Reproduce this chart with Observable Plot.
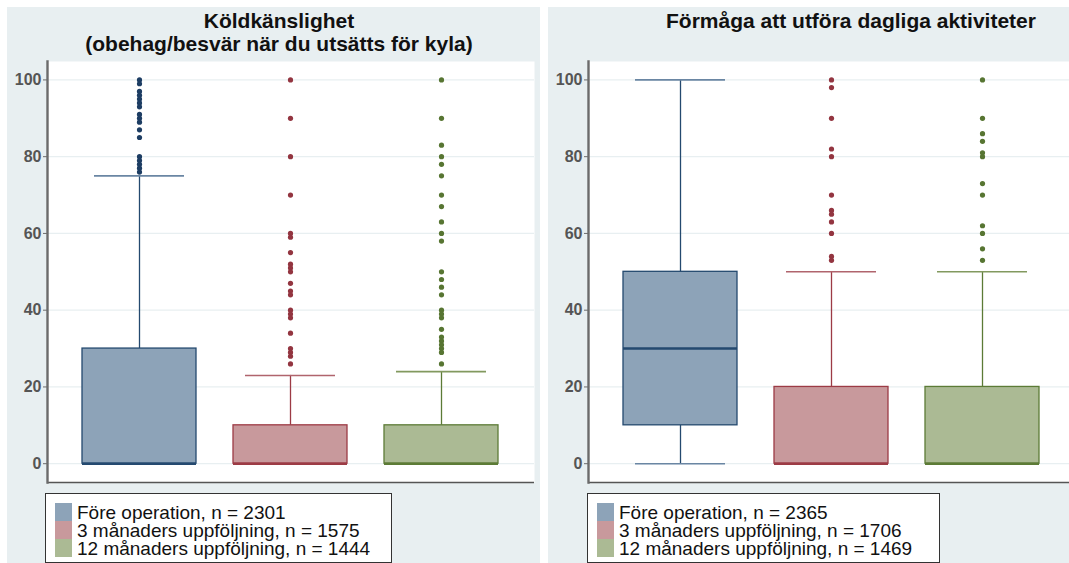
<!DOCTYPE html>
<html>
<head>
<meta charset="utf-8">
<script src="https://cdn.jsdelivr.net/npm/d3@7"></script>
<script src="https://cdn.jsdelivr.net/npm/@observablehq/plot@0.6"></script>
<style>
  html, body { margin: 0; padding: 0; background: #ffffff; overflow: hidden; width: 1069px; height: 563px; }
  body { position: relative; font-family: "Liberation Sans", Arial, sans-serif; }
  .panel { position: absolute; top: 7px; height: 556px; background: #e8eff1; }
  .title { position: absolute; top: 9px; width: 500px; text-align: center; font-weight: bold; font-size: 21px; line-height: 23px; color: #111; }
  .chart { position: absolute; top: 55px; width: 533px; height: 430px; }
  .chart svg { max-width: none !important; display: block; }
  .legend { position: absolute; top: 493px; height: 70px; background: #fff; border: 1px solid #333; box-sizing: border-box; }
  .row { position: absolute; left: 0; height: 18px; }
  .sw { position: absolute; left: 9px; top: 0; width: 17px; height: 18px; }
  .lt { position: absolute; left: 31px; top: 1px; font-size: 19px; line-height: 17px; height: 17px; white-space: nowrap; color: #111; }
</style>
</head>
<body>
<div class="panel" style="left:7px;width:533px"></div>
<div class="panel" style="left:548px;width:540px"></div>
<div class="title" style="left:29px">Köldkänslighet<br>(obehag/besvär när du utsätts för kyla)</div>
<div class="title" style="left:601px">Förmåga att utföra dagliga aktiviteter</div>
<div id="c1" class="chart" style="left:7px"></div>
<div id="c2" class="chart" style="left:548px"></div>
<div id="l1" class="legend" style="left:45px;width:347px"></div>
<div id="l2" class="legend" style="left:587px;width:353px"></div>
<script>
// ---------- data ----------
const groups = ["Före operation", "3 månaders uppföljning", "12 månaders uppföljning"];
const yTicks = [0, 20, 40, 60, 80, 100];

// Köldkänslighet
const coldN = [2301, 1575, 1444];
const coldLow = [0, 0, 0];
const coldQ1 = [0, 0, 0];
const coldMedian = [0, 0, 0];
const coldQ3 = [30, 10, 10];
const coldHigh = [75, 23, 24];
const coldOutPre = [100, 99, 97, 96, 95, 94, 93, 91, 90, 89, 87, 85, 80, 79, 78, 77, 76];
const coldOut3m = [100, 90, 80, 70, 60, 59, 55, 52, 51, 50, 47, 45, 44, 40, 39, 38, 34, 30, 29, 28, 26];
const coldOut12m = [100, 90, 83, 80, 78, 75, 70, 67, 63, 60, 58, 50, 48, 46, 44, 40, 39, 38, 35, 33, 32, 31, 30, 29, 26];

// Förmåga att utföra dagliga aktiviteter
const adlN = [2365, 1706, 1469];
const adlLow = [0, 0, 0];
const adlQ1 = [10, 0, 0];
const adlMedian = [30, 0, 0];
const adlQ3 = [50, 20, 20];
const adlHigh = [100, 50, 50];
const adlOutPre = [];
const adlOut3m = [100, 98, 90, 82, 80, 70, 66, 65, 63, 60, 54, 53];
const adlOut12m = [100, 90, 86, 84, 81, 80, 73, 70, 62, 60, 56, 53];

const fills = ["#8da3b8", "#c8999c", "#abba94"];
const strokes = ["#24496f", "#9c3b45", "#5c7b36"];
const capColors = ["#6a86a3", "#b0646d", "#82995f"];
const dotColors = ["#1d3d63", "#933540", "#577532"];

function draw(el, low, q1, med, q3, high, outs) {
  const stats = groups.map((g, i) => ({g, low: low[i], q1: q1[i], med: med[i], q3: q3[i], high: high[i]}));
  const pts = groups.flatMap((g, i) => outs[i].map(v => ({g, v})));
  const col = arr => d => arr[groups.indexOf(d.g)];
  const chart = Plot.plot({
    width: 533,
    height: 430,
    marginLeft: 40,
    marginRight: 6,
    marginTop: 6,
    marginBottom: 3,
    style: {fontFamily: "'Liberation Sans', Arial, sans-serif", fontSize: "16px", color: "#555555", background: "transparent", maxWidth: "none"},
    x: {type: "band", domain: groups, padding: 0.204, axis: null},
    y: {domain: [-4.9, 104.8], axis: null},
    marks: [
      Plot.frame({fill: "#ffffff", stroke: null}),
      Plot.gridY(yTicks, {stroke: "#e8eff1", strokeOpacity: 1, strokeWidth: 1.2}),
      Plot.axisY(yTicks, {tickSize: 4, tickPadding: 2, fontWeight: "bold", stroke: "#6b6b6b", label: null}),
      Plot.ruleX(stats, {x: "g", y1: "q3", y2: "high", stroke: col(strokes), strokeWidth: 1.3}),
      Plot.ruleX(stats, {x: "g", y1: "low", y2: "q1", stroke: col(strokes), strokeWidth: 1.3}),
      Plot.tickY(stats, {x: "g", y: "high", stroke: col(capColors), strokeWidth: 1.6, insetLeft: 15, insetRight: 15}),
      Plot.tickY(stats, {x: "g", y: "low", stroke: col(capColors), strokeWidth: 1.6, insetLeft: 15, insetRight: 15}),
      Plot.barY(stats, {x: "g", y1: "q1", y2: "q3", fill: col(fills), stroke: col(strokes), strokeWidth: 1.3, insetLeft: 3, insetRight: 3}),
      Plot.tickY(stats, {x: "g", y: "med", stroke: col(strokes), strokeWidth: 2.6, insetLeft: 3, insetRight: 3}),
      Plot.dot(pts, {x: "g", y: "v", r: 2.6, fill: col(dotColors), stroke: null}),
      Plot.ruleY([-4.9], {stroke: "#555", strokeWidth: 1.6}),
      Plot.frame({anchor: "left", stroke: "#6b6b6b", strokeWidth: 2.4})
    ]
  });
  document.getElementById(el).appendChild(chart);
}

function legend(el, ns) {
  const box = document.getElementById(el);
  groups.forEach((g, i) => {
    const row = document.createElement("div");
    row.className = "row";
    row.style.top = (9 + i * 18) + "px";
    row.style.width = "100%";
    row.innerHTML = `<div class="sw" style="background:${fills[i]}"></div><div class="lt">${g}, n = ${ns[i]}</div>`;
    box.appendChild(row);
  });
}

draw("c1", coldLow, coldQ1, coldMedian, coldQ3, coldHigh, [coldOutPre, coldOut3m, coldOut12m]);
draw("c2", adlLow, adlQ1, adlMedian, adlQ3, adlHigh, [adlOutPre, adlOut3m, adlOut12m]);
legend("l1", coldN);
legend("l2", adlN);
</script>
</body>
</html>
